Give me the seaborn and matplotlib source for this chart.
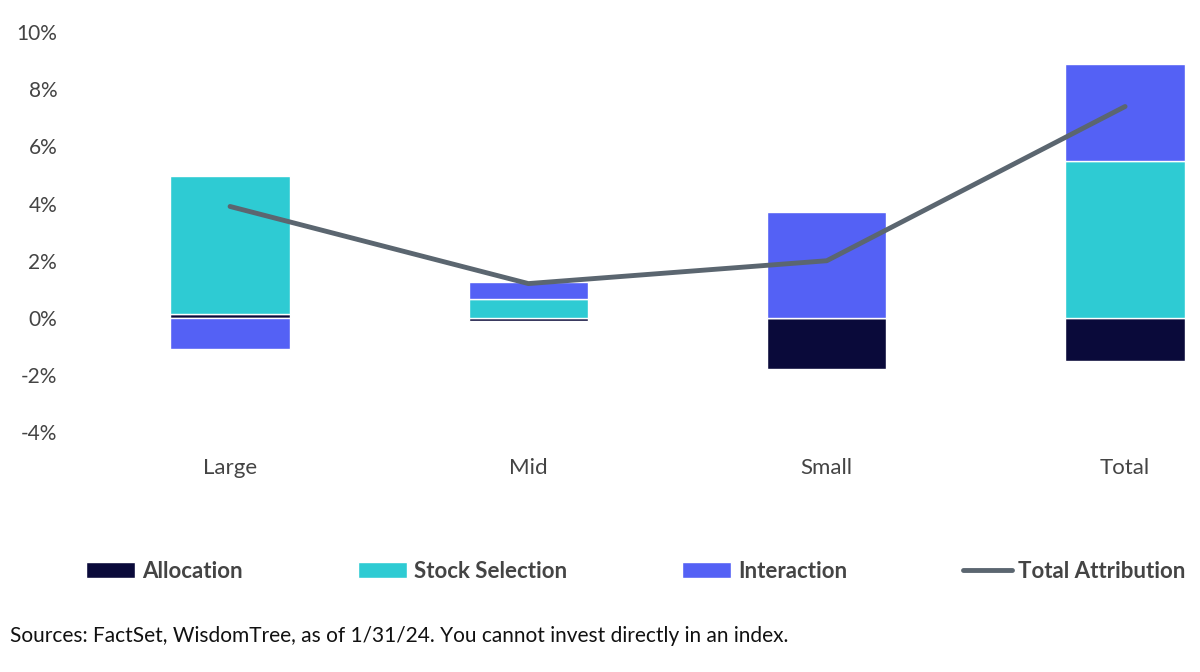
import numpy as np
import seaborn as sns
import matplotlib.pyplot as plt

sns.set_theme(style="white")
plt.rcParams['font.family'] = ['Lato', 'DejaVu Sans']

categories = ['Large', 'Mid', 'Small', 'Total']
allocation = [0.12, -0.1, -1.8, -1.5]
stock_selection = [4.85, 0.65, 0.0, 5.5]
interaction = [-1.1, 0.6, 3.7, 3.4]
total_attribution = [3.9, 1.2, 2.0, 7.4]

colors = {'Allocation': '#0a0a3a', 'Stock Selection': '#2ecbd3',
          'Interaction': '#5461f5', 'Total Attribution': '#5b6670'}

fig = plt.figure(figsize=(12, 6.72), dpi=100)
ax = fig.add_axes([0.05, 0.357, 0.946, 0.595])

x = np.arange(len(categories))
pos = np.zeros(len(categories))
neg = np.zeros(len(categories))
for name, vals in [('Allocation', allocation), ('Stock Selection', stock_selection),
                   ('Interaction', interaction)]:
    vals = np.array(vals)
    bottom = np.where(vals >= 0, pos, neg)
    ax.bar(x, vals, 0.4, bottom=bottom, color=colors[name], label=name)
    pos = pos + np.where(vals >= 0, vals, 0)
    neg = neg + np.where(vals < 0, vals, 0)

sns.lineplot(x=x, y=total_attribution, ax=ax, color=colors['Total Attribution'],
             linewidth=3.5, label='Total Attribution')

ax.set_xlim(-0.57, 3.235)
ax.set_ylim(-4, 10)
ax.set_yticks(range(-4, 11, 2))
ax.set_yticklabels([f'{v}%' for v in range(-4, 11, 2)], fontsize=15, color='#444444')
ax.set_xticks(x)
ax.set_xticklabels(categories, fontsize=16, color='#444444')
ax.tick_params(axis='x', pad=19, length=0)
ax.tick_params(axis='y', length=0, pad=2)
for s in ax.spines.values():
    s.set_visible(False)

ax.legend().remove()
h, l = ax.get_legend_handles_labels()
order = ['Allocation', 'Stock Selection', 'Interaction', 'Total Attribution']
hd = dict(zip(l, h))
fig.legend([hd[o] for o in order], order, loc='center', bbox_to_anchor=(0.53, 0.15),
           ncol=4, frameon=False, columnspacing=5.2, handlelength=2.2, handletextpad=0.3,
           prop={'size': 16, 'weight': 'bold'}, labelcolor='#444444')

fig.text(0.008, 0.045, 'Sources: FactSet, WisdomTree, as of 1/31/24. You cannot invest directly in an index.',
         fontsize=15, color='#111111')

fig.savefig('out.png', dpi=100)
